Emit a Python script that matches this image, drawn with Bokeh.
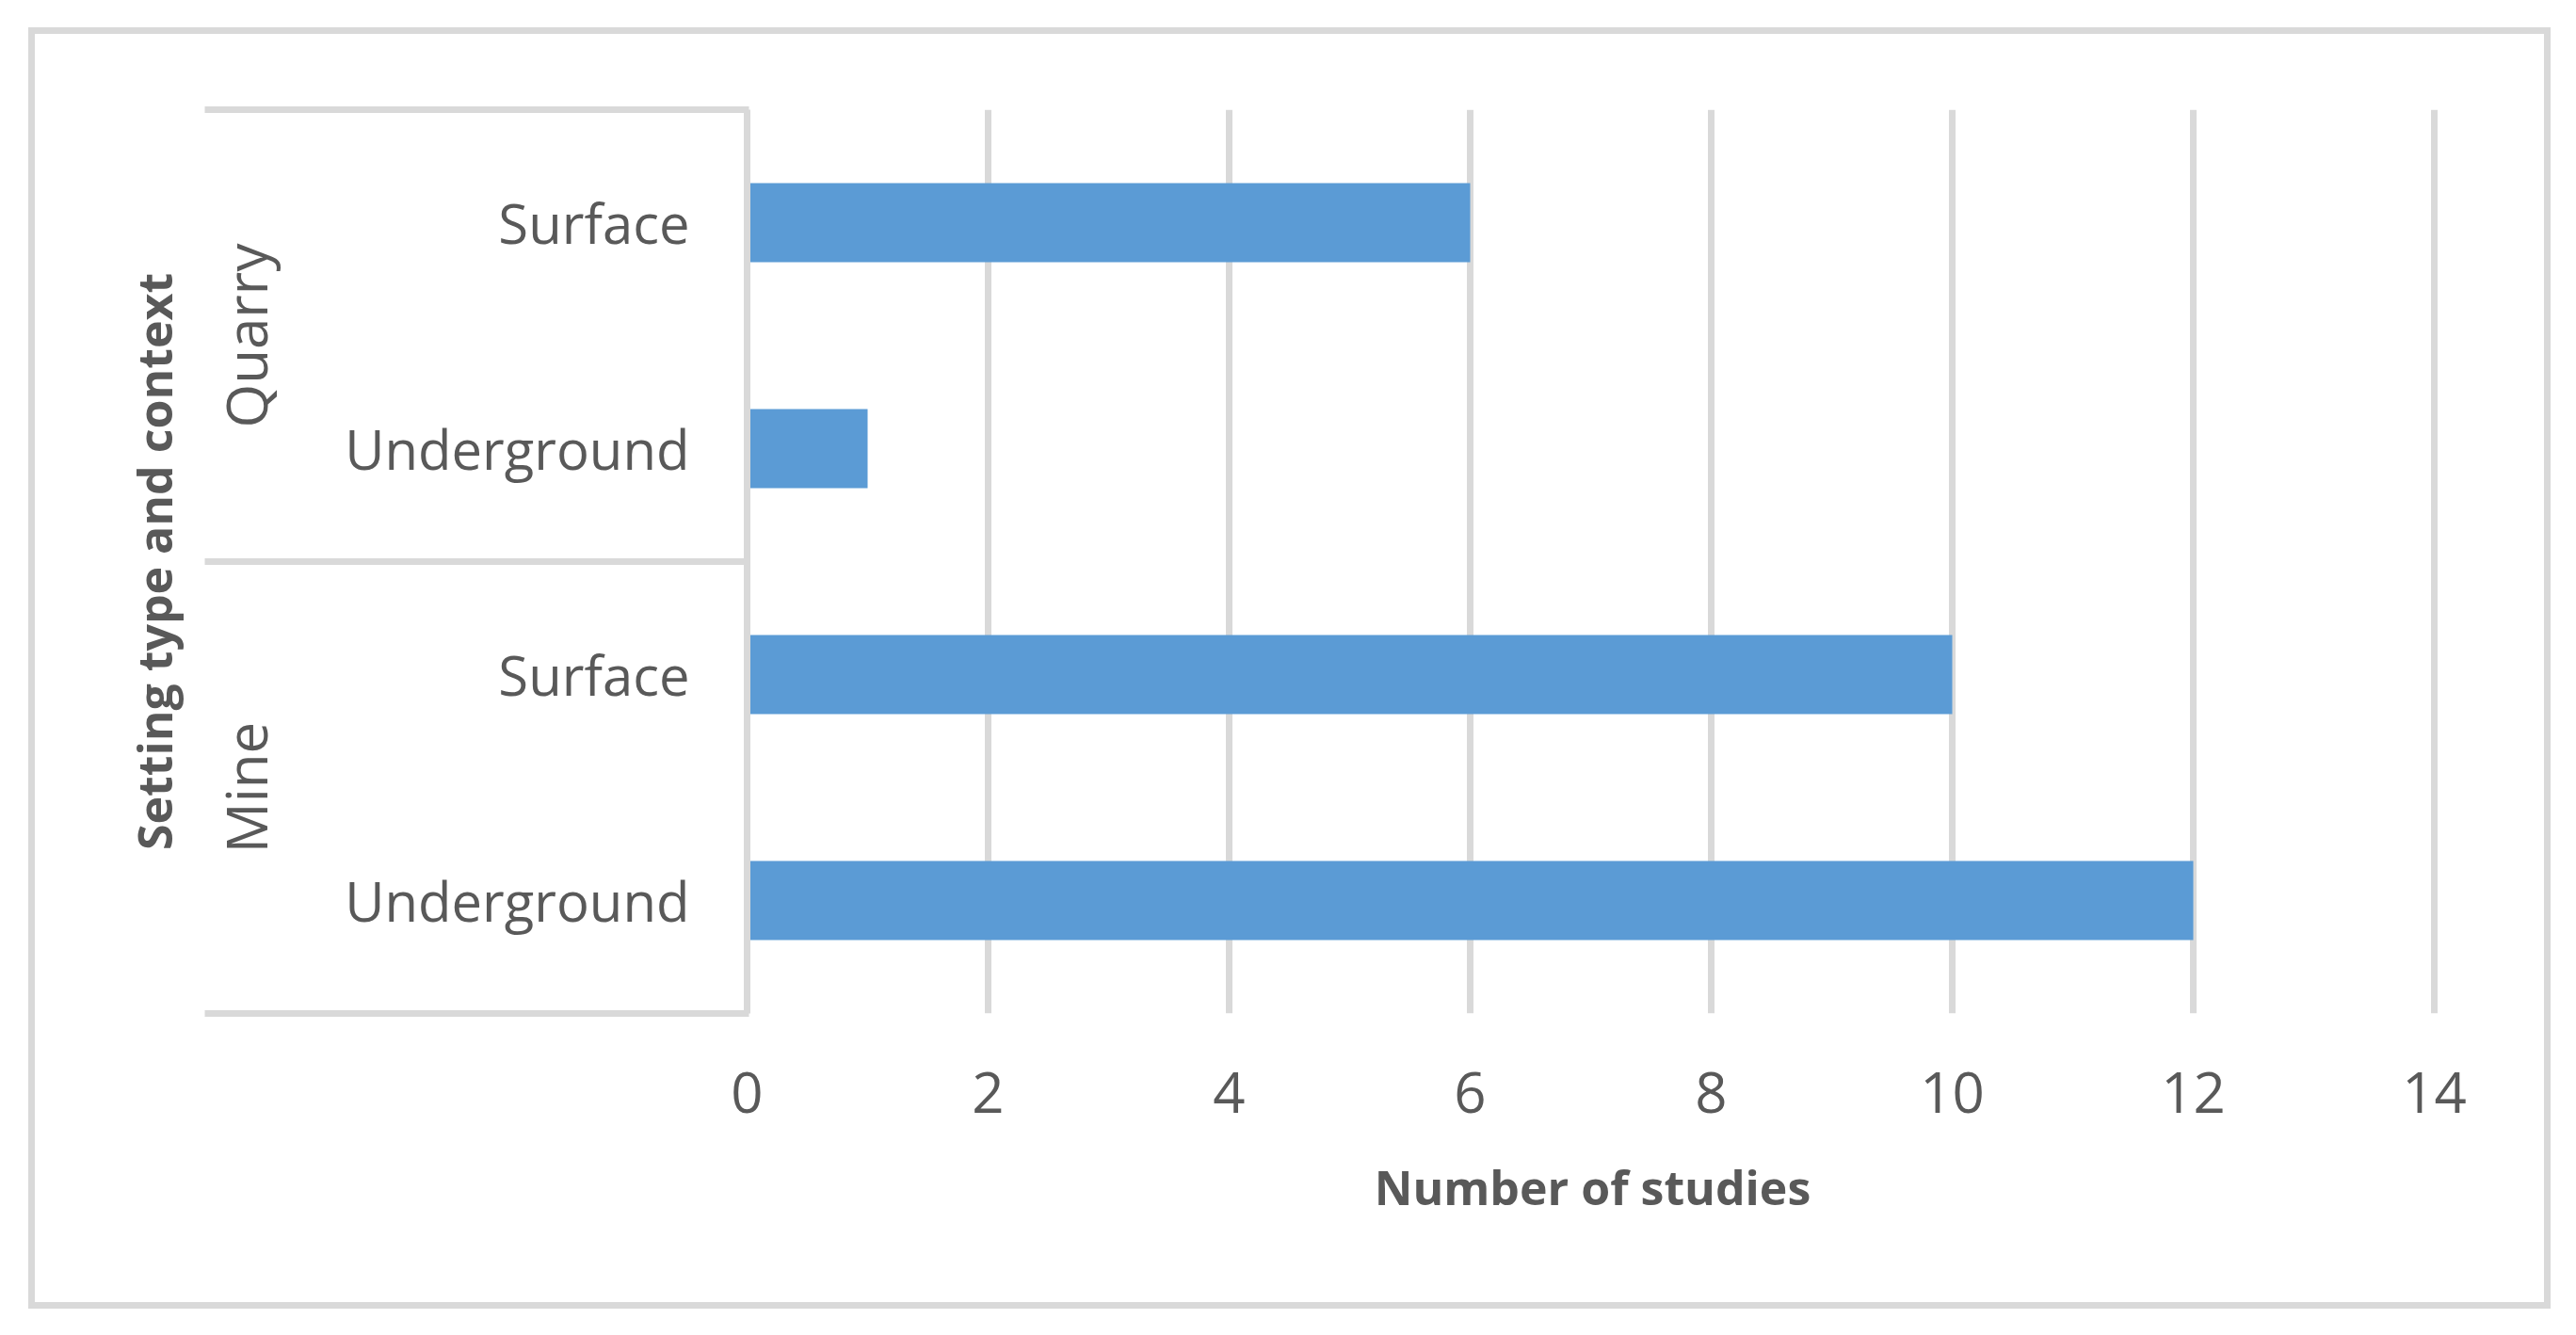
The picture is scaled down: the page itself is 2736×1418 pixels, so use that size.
from bokeh.plotting import figure
from bokeh.models import (FactorRange, FixedTicker, ColumnDataSource, Range1d, LinearAxis)
from bokeh.embed import file_html
from bokeh.resources import INLINE

# ---- data ----
groups = ["Quarry", "Mine"]
settings = ["Surface", "Underground"]
quarry_counts = [6, 1]    # Surface, Underground
mine_counts = [10, 12]    # Surface, Underground
x_ticks = [0, 2, 4, 6, 8, 10, 12, 14]
x_title = "Number of studies"
y_title = "Setting type and context"

# factors listed bottom -> top
factors, values = [], []
for g, counts in (("Mine", mine_counts), ("Quarry", quarry_counts)):
    for s, c in reversed(list(zip(settings, counts))):
        factors.append((g, s))
        values.append(c)

GRAY = "#d9d9d9"
TXT = "#595959"
FONT = "Open Sans"

W, H = 2679, 1361
FL, FR, FT, FB = 756, 127, 80, 321
PX_PER_UNIT = 128
x_end = x_ticks[-1] + 4 / PX_PER_UNIT   # keep last gridline inside the frame

p = figure(width=W, height=H,
           y_range=FactorRange(*factors, group_padding=0, range_padding=0),
           x_range=Range1d(0, x_end),
           output_backend="svg", toolbar_location=None,
           min_border_left=FL, min_border_right=FR,
           min_border_top=FT, min_border_bottom=FB,
           styles={"border": "7px solid " + GRAY,
                   "margin-left": "30px", "margin-top": "29px"})
p.outline_line_color = None
p.background_fill_color = "white"
p.border_fill_color = "white"

src = ColumnDataSource(dict(y=factors, v=values))
p.hbar(y="y", right="v", left=0, height=0.35, source=src,
       fill_color="#5b9bd5", line_color=None)

# grid
p.ygrid.grid_line_color = None
p.xgrid.grid_line_color = GRAY
p.xgrid.grid_line_width = 7

# x axis
xax = p.xaxis[0]
xax.ticker = FixedTicker(ticks=x_ticks)
xax.axis_line_color = None
xax.major_tick_line_color = None
xax.minor_tick_line_color = None
xax.major_tick_out = 0
xax.major_tick_in = 0
xax.major_label_text_font = FONT
xax.major_label_text_font_size = "60px"
xax.major_label_text_color = TXT
xax.major_label_standoff = 62
xax.axis_label = x_title
xax.axis_label_text_font = FONT
xax.axis_label_text_font_style = "bold"
xax.axis_label_text_font_size = "50px"
xax.axis_label_text_color = TXT
xax.axis_label_standoff = 42

# y axis (nested categorical): sub-labels and group labels
yax = p.yaxis[0]
yax.axis_line_color = GRAY
yax.axis_line_width = 7
yax.major_tick_line_color = None
yax.minor_tick_line_color = None
yax.major_tick_out = 0
yax.major_tick_in = 0
yax.major_label_text_font = FONT
yax.major_label_text_font_size = "58px"
yax.major_label_text_color = TXT
yax.major_label_standoff = 61
yax.group_text_font = FONT
yax.group_text_font_size = "60px"
yax.group_text_font_style = "normal"
yax.group_text_color = TXT
yax.separator_line_color = None

# outer unlabeled axis: its minor ticks, pointing inward, draw the table
# lines at the group boundaries; it also carries the y-axis title
n_mine, n_quarry = len(mine_counts), len(quarry_counts)
bounds = [0, n_mine, n_mine + n_quarry]
lines_axis = LinearAxis(ticker=FixedTicker(ticks=[], minor_ticks=bounds),
                        axis_line_color=None, major_tick_line_color=None,
                        major_tick_in=0, major_tick_out=0,
                        major_label_text_font_size="0px",
                        minor_tick_in=578, minor_tick_out=0,
                        minor_tick_line_color=GRAY, minor_tick_line_width=7,
                        axis_label=y_title, axis_label_text_font=FONT,
                        axis_label_text_font_style="bold",
                        axis_label_text_font_size="50px",
                        axis_label_text_color=TXT, axis_label_standoff=20)
p.add_layout(lines_axis, "left")

open("out.html", "w").write(file_html(p, INLINE))
